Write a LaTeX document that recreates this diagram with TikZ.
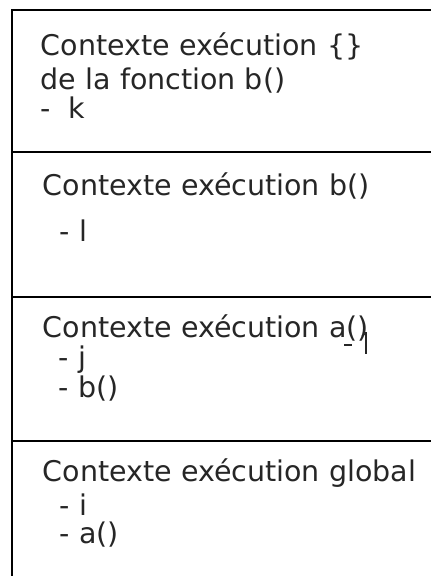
\documentclass[tikz,border=0pt]{standalone}
\usepackage{fontspec}
\setmainfont{DejaVu Sans}
\begin{document}
\begin{tikzpicture}[x=1pt,y=-1pt,line width=1.8pt,
  lbl/.style={anchor=base west,inner sep=0pt,font=\fontsize{28.5}{34}\selectfont,text=black!85}]
\useasboundingbox (0,0) rectangle (431,576);
\coordinate (tr) at (431,10);
\coordinate (tl) at (12,10);
\coordinate (bl) at (12,576);
\draw (tr) -- (tl) -- (bl);
\coordinate (d1l) at (12,152); \coordinate (d1r) at (431,152);
\coordinate (d2l) at (12,297); \coordinate (d2r) at (431,297);
\coordinate (d3l) at (12,441); \coordinate (d3r) at (431,441);
\draw (d1l) -- (d1r);
\draw (d2l) -- (d2r);
\draw (d3l) -- (d3r);
% section 1
\node[lbl] (t1a) at (40,55) {Contexte exécution \{\}};
\node[lbl] (t1b) at (40,89) {de la fonction b()};
\node[lbl] (t1c) at (40,118) {-\hspace{0.6em}k};
% section 2
\node[lbl] (t2a) at (42,195) {Contexte exécution b()};
\node[lbl] (t2b) at (59,241) {- l};
% section 3
\node[lbl] (t3a) at (42,337) {Contexte exécution a()};
\node[lbl] (t3b) at (58,367) {- j};
\node[lbl] (t3c) at (58,397) {- b()};
\draw[line width=1.2pt,black!85] (344,345) -- (352,345);
\draw[line width=1.6pt,black!85] (366,332) -- (366,354);
\draw[line width=1.2pt,black!85] (366,333) -- (362,336);
% section 4
\node[lbl] (t4a) at (42,481) {Contexte exécution global};
\node[lbl] (t4b) at (59,515) {- i};
\node[lbl] (t4c) at (59,543) {- a()};
\end{tikzpicture}
\end{document}
